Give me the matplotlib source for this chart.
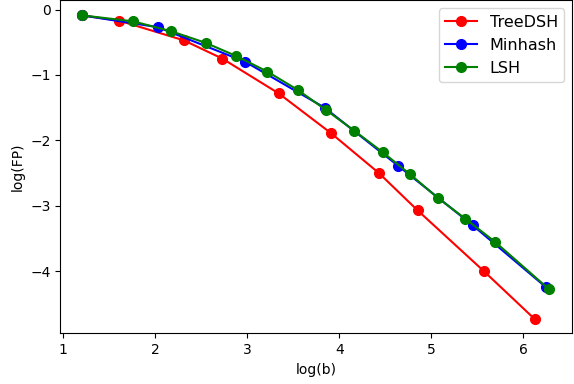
import matplotlib
matplotlib.use('Agg')
import matplotlib.pyplot as plt

# values
tree_x = [1.21, 1.61, 2.31, 2.73, 3.34, 3.91, 4.43, 4.85, 5.57, 6.12]
tree_y = [-0.09, -0.17, -0.47, -0.75, -1.28, -1.89, -2.50, -3.07, -4.00, -4.73]

minhash_x = [1.21, 2.03, 2.98, 3.84, 4.64, 5.45, 6.24]
minhash_y = [-0.09, -0.27, -0.80, -1.50, -2.39, -3.30, -4.24]

lsh_x = [1.21, 1.76, 2.17, 2.55, 2.88, 3.22, 3.55, 3.86, 4.16, 4.47,
         4.77, 5.07, 5.37, 5.69, 6.28]
lsh_y = [-0.09, -0.18, -0.33, -0.51, -0.71, -0.95, -1.23, -1.54, -1.85,
         -2.18, -2.52, -2.88, -3.20, -3.55, -4.28]

fig = plt.figure(figsize=(5.74, 3.84), dpi=100)
ax = fig.add_axes([0.105, 0.132, 0.892, 0.867])

ax.plot(tree_x, tree_y, 'o-', color='r', markersize=7, label='TreeDSH')
ax.plot(minhash_x, minhash_y, 'o-', color='b', markersize=7, label='Minhash')
ax.plot(lsh_x, lsh_y, 'o-', color='g', markersize=7, label='LSH')

ax.set_xlim(0.97, 6.53)
ax.set_ylim(-4.95, 0.14)
ax.set_xticks([1, 2, 3, 4, 5, 6])
ax.set_yticks([0, -1, -2, -3, -4])
ax.set_xlabel('log(b)')
ax.set_ylabel('log(FP)')
ax.legend(loc='upper right', fontsize=11.5)

fig.savefig('out.png', dpi=100)
